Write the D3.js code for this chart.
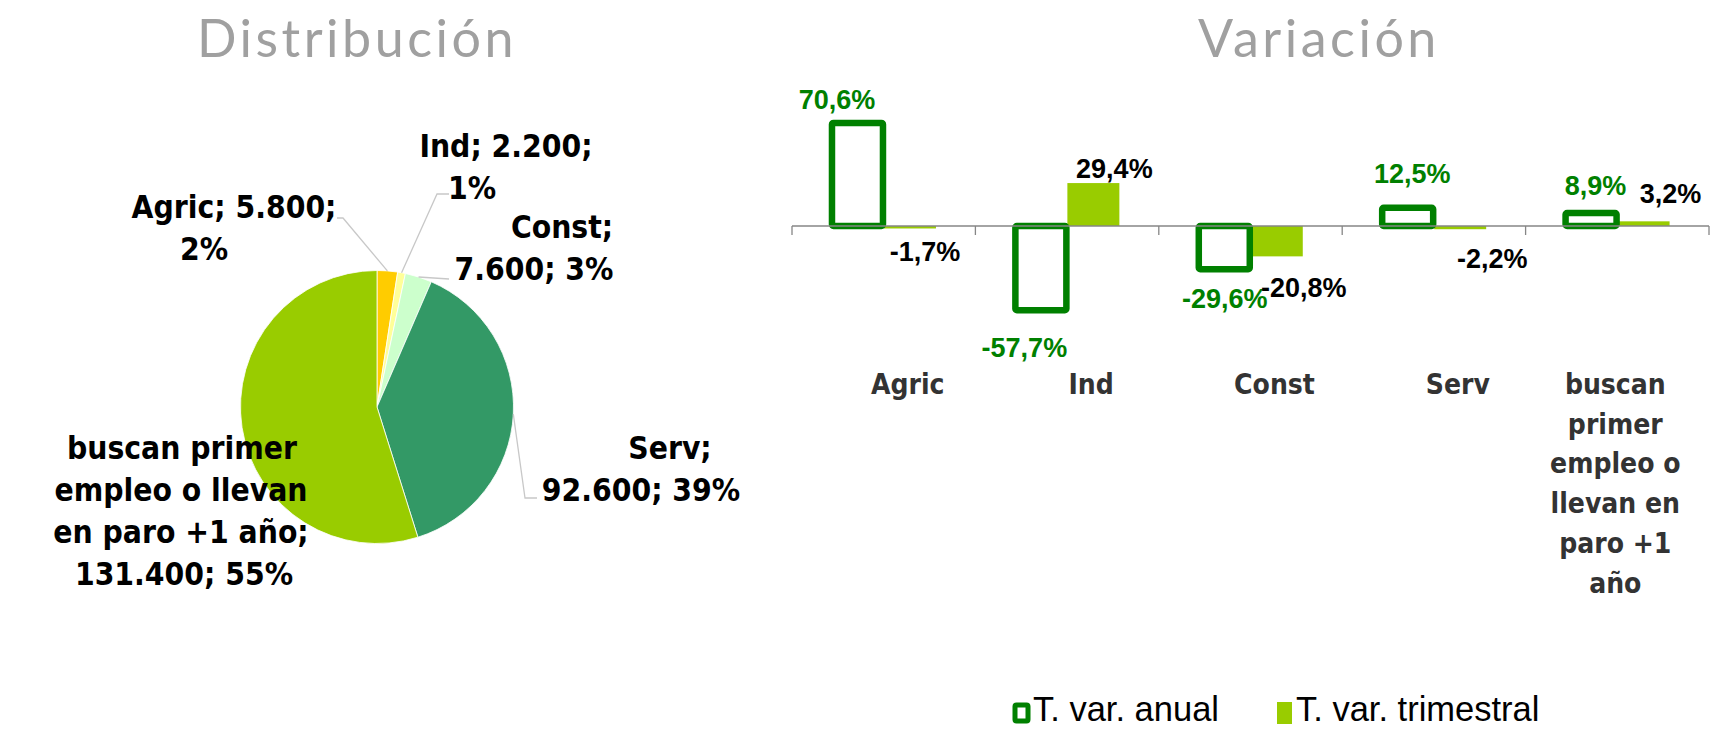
<!DOCTYPE html>
<html lang="es">
<head>
  <meta charset="UTF-8">
  <title>Distribución y variación</title>
  <script src="https://d3js.org/d3.v7.min.js"></script>
  <style>
    body { margin: 0; background: #fff; }
    .cond { font-family: "Liberation Sans Narrow", "DejaVu Sans Condensed", sans-serif; font-weight: bold; }
  </style>
</head>
<body>
  <div id="chart"></div>
  <script>
    // pie data
    const pieCats = ["Agric", "Ind", "Const", "Serv", "buscan primer empleo o llevan en paro +1 año"];
    const pieValues = [5800, 2200, 7600, 92600, 131400];
    const pieColors = ["#FFCC00", "#FFFF99", "#CCFFCC", "#339966", "#99CC00"];

    // bar data
    const barCats = ["Agric", "Ind", "Const", "Serv", "buscan"];
    const catLines = [["Agric"], ["Ind"], ["Const"], ["Serv"],
      ["buscan", "primer", "empleo o", "llevan en", "paro +1", "año"]];
    const series = ["T. var. anual", "T. var. trimestral"];
    const varAnual = [70.6, -57.7, -29.6, 12.5, 8.9];
    const varTrim = [-1.7, 29.4, -20.8, -2.2, 3.2];

    const width = 1729, height = 729;
    const svg = d3.select("#chart").append("svg")
      .attr("width", width)
      .attr("height", height);

    const es = d3.formatLocale({ decimal: ",", thousands: ".", grouping: [3], currency: ["", "€"], minus: "-" });

    // titles
    svg.append("text")
      .attr("x", 357).attr("y", 57)
      .attr("text-anchor", "middle")
      .attr("font-family", "Lato, sans-serif")
      .attr("font-size", "52px")
      .attr("letter-spacing", "3.5px")
      .attr("fill", "#a0a0a0")
      .text("Distribución");

    svg.append("text")
      .attr("x", 1319).attr("y", 57)
      .attr("text-anchor", "middle")
      .attr("font-family", "Lato, sans-serif")
      .attr("font-size", "52px")
      .attr("letter-spacing", "3.5px")
      .attr("fill", "#a0a0a0")
      .text("Variación");

    // ---- pie ----
    const cx = 377, cy = 407, r = 136.5;
    const pie = d3.pie().sort(null).value(d => d.v);
    const arcs = pie(pieValues.map((v, i) => ({ v: v, i: i })));
    const arc = d3.arc().innerRadius(0).outerRadius(r);

    const pg = svg.append("g").attr("transform", `translate(${cx},${cy})`);
    pg.selectAll("path")
      .data(arcs)
      .enter()
      .append("path")
      .attr("d", arc)
      .attr("fill", d => pieColors[d.data.i])
      .attr("stroke", "#fff")
      .attr("stroke-width", 0.8);

    // label layout (lines split like the original, line centers / baselines, leader elbow)
    const pieLabelLines = [
      ["Agric; 5.800;", "2%"],
      ["Ind; 2.200;", "1%"],
      ["Const;", "7.600; 3%"],
      ["Serv;", "92.600; 39%"],
      ["buscan primer", "empleo o llevan", "en paro +1 año;", "131.400; 55%"]
    ];
    const pieLabelPos = [
      { xs: [234, 204], y: 218, elbow: [343, 218], end: [337, 218] },
      { xs: [506, 472], y: 157, elbow: [437, 194], end: [449, 194] },
      { xs: [562, 534], y: 238, elbow: [449, 279], end: [449, 279] },
      { xs: [670, 641], y: 459, elbow: [525, 498], end: [537, 498] },
      { xs: [182, 181, 181, 184], y: 459, elbow: null, end: null }
    ];

    arcs.forEach((d, i) => {
      const p = pieLabelPos[i];
      if (p.elbow) {
        const a = (d.startAngle + d.endAngle) / 2;
        const sx = cx + r * Math.sin(a), sy = cy - r * Math.cos(a);
        svg.append("polyline")
          .attr("points", [[sx, sy], p.elbow, p.end].map(q => q.join(",")).join(" "))
          .attr("fill", "none")
          .attr("stroke", "#c8c8c8")
          .attr("stroke-width", 1.3);
      }
      const t = svg.append("text")
        .attr("class", "cond")
        .attr("font-size", "31.5px")
        .attr("fill", "#000")
        .attr("text-anchor", "middle");
      pieLabelLines[i].forEach((ln, k) => {
        t.append("tspan")
          .attr("x", p.xs[k])
          .attr("y", p.y + k * 42)
          .text(ln);
      });
    });

    // ---- bars ----
    const x0 = d3.scaleBand()
      .domain(barCats)
      .range([792, 1709]);
    const x1 = d3.scaleBand()
      .domain(series)
      .range([x0.bandwidth() * 0.218, x0.bandwidth() * 0.785]);
    const y = d3.scaleLinear()
      .domain([-60, 80])
      .range([226 + 60 * 1.46, 226 - 80 * 1.46]);

    const bg = svg.append("g");

    // quarterly bars
    bg.selectAll(".trim")
      .data(varTrim)
      .enter()
      .append("rect")
      .attr("class", "trim")
      .attr("x", (d, i) => x0(barCats[i]) + x1(series[1]))
      .attr("width", x1.bandwidth())
      .attr("y", d => Math.min(y(d), y(0)))
      .attr("height", d => Math.max(Math.abs(y(d) - y(0)), 2))
      .attr("fill", "#99CC00");

    // annual bars (outlined)
    bg.selectAll(".anual")
      .data(varAnual)
      .enter()
      .append("rect")
      .attr("class", "anual")
      .attr("x", (d, i) => x0(barCats[i]) + x1(series[0]))
      .attr("width", x1.bandwidth() - 1)
      .attr("y", d => Math.min(y(d), y(0)))
      .attr("height", d => Math.abs(y(d) - y(0)))
      .attr("fill", "#fff")
      .attr("stroke", "#008000")
      .attr("stroke-width", 6.5)
      .attr("rx", 1.5);

    // axis line + boundary ticks
    svg.append("line")
      .attr("x1", x0.range()[0]).attr("x2", x0.range()[1])
      .attr("y1", y(0)).attr("y2", y(0))
      .attr("stroke", "#868686")
      .attr("stroke-width", 1.3);
    const edges = barCats.map(c => x0(c)).concat([x0.range()[1]]);
    svg.selectAll(".tk")
      .data(edges)
      .enter()
      .append("line")
      .attr("x1", d => d).attr("x2", d => d)
      .attr("y1", y(0)).attr("y2", y(0) + 9)
      .attr("stroke", "#868686")
      .attr("stroke-width", 1.3);

    // value labels
    const pct = d => es.format(".1f")(d) + "%";
    const anualNudge = [[-21, -14], [-17, 47], [0, 39], [4, -25], [4, -18]];
    const trimNudge = [[15, 33], [21, -5], [27, 41], [32, 39], [27, -18]];

    svg.selectAll(".lblA")
      .data(varAnual)
      .enter()
      .append("text")
      .attr("font-family", "'Liberation Sans', Arial, sans-serif")
      .attr("font-weight", "bold")
      .attr("font-size", "27px")
      .attr("fill", "#008000")
      .attr("text-anchor", "middle")
      .attr("x", (d, i) => x0(barCats[i]) + x1(series[0]) + x1.bandwidth() / 2 + anualNudge[i][0])
      .attr("y", (d, i) => y(d) + anualNudge[i][1])
      .text(pct);

    svg.selectAll(".lblT")
      .data(varTrim)
      .enter()
      .append("text")
      .attr("font-family", "'Liberation Sans', Arial, sans-serif")
      .attr("font-weight", "bold")
      .attr("font-size", "27px")
      .attr("fill", "#000")
      .attr("text-anchor", "middle")
      .attr("x", (d, i) => x0(barCats[i]) + x1(series[1]) + x1.bandwidth() / 2 + trimNudge[i][0])
      .attr("y", (d, i) => y(d) + trimNudge[i][1])
      .text(pct);

    // category labels
    catLines.forEach((lines, i) => {
      const t = svg.append("text")
        .attr("class", "cond")
        .attr("font-size", "28px")
        .attr("fill", "#333")
        .attr("text-anchor", "middle");
      const dx = lines.length > 1 ? -2 : 24;
      lines.forEach((ln, k) => {
        t.append("tspan")
          .attr("x", x0(barCats[i]) + x0.bandwidth() / 2 + dx)
          .attr("y", 394 + k * 39.7)
          .text(ln);
      });
    });

    // legend
    const lg = svg.append("g");
    lg.append("rect")
      .attr("x", 1015).attr("y", 705)
      .attr("width", 13).attr("height", 16)
      .attr("fill", "#fff")
      .attr("stroke", "#008000")
      .attr("stroke-width", 5)
      .attr("rx", 1.5);
    lg.append("text")
      .attr("x", 1033).attr("y", 721)
      .attr("font-family", "'Liberation Sans', Arial, sans-serif")
      .attr("font-size", "34.5px")
      .attr("fill", "#000")
      .text(series[0]);
    lg.append("rect")
      .attr("x", 1277).attr("y", 702)
      .attr("width", 15).attr("height", 22)
      .attr("fill", "#99CC00");
    lg.append("text")
      .attr("x", 1296).attr("y", 721)
      .attr("font-family", "'Liberation Sans', Arial, sans-serif")
      .attr("font-size", "34.5px")
      .attr("fill", "#000")
      .text(series[1]);
  </script>
</body>
</html>
